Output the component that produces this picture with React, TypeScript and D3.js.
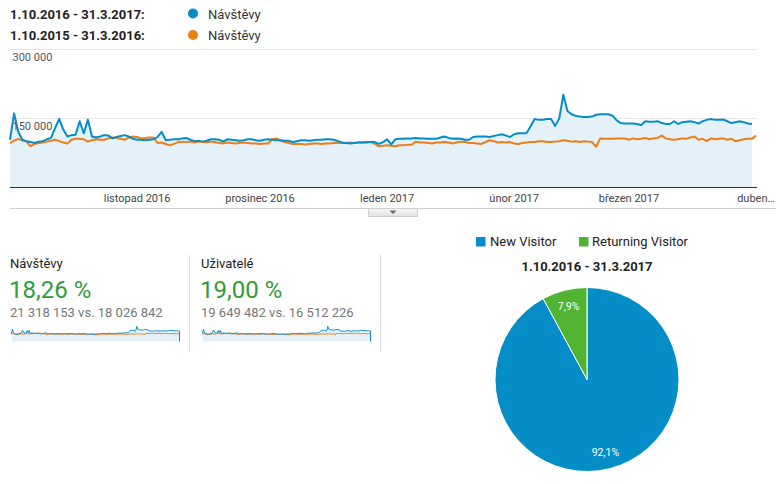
import React from "react";
import * as d3 from "d3";

// Daily visits (thousands), 1.10.2016 - 31.3.2017 (182 days)
const visitsCurrent = [
  103,160,121,103,100,98,96,99,100,104,
  107,128,148,125,110,113,114,143,117,146,
  110,108,110,113,112,106,109,111,113,110,
  105,103,103,102,103,104,109,120,102,103,
  104,104,106,107,103,100,101,99,101,104,
  104,103,99,104,103,102,101,102,104,104,
  102,101,103,104,103,102,102,101,101,98,
  100,102,102,101,102,103,103,104,104,103,
  100,97,96,95,96,97,97,97,98,98,
  94,98,104,93,104,105,105,106,106,107,
  106,106,105,105,105,108,110,107,105,106,
  105,103,103,109,110,110,110,109,111,113,
  115,112,109,115,117,117,117,132,148,146,
  146,148,148,133,149,200,165,158,155,153,
  152,152,153,157,158,158,158,155,145,139,
  138,138,138,137,135,143,142,142,143,139,
  137,137,143,137,141,142,143,141,138,143,
  146,148,146,146,147,143,139,141,143,141,
  138,137,
];

// Daily visits (thousands), 1.10.2015 - 31.3.2016 (183 days)
const visitsPrevious = [
  96,101,105,102,99,89,94,96,97,99,
  101,103,100,97,95,103,105,105,104,99,
  102,104,103,103,106,108,107,105,103,108,
  110,109,106,107,108,108,96,97,94,91,
  94,98,99,98,99,97,99,98,97,99,
  98,96,95,97,96,95,96,97,96,95,
  95,94,95,95,104,106,101,98,96,94,
  94,94,93,94,95,95,94,95,95,96,
  96,96,96,97,96,97,97,99,98,94,
  89,90,91,90,89,91,91,92,92,99,
  97,97,96,95,97,97,98,97,95,97,
  99,98,96,96,95,94,98,102,100,97,
  98,97,98,95,94,96,97,98,98,100,
  100,98,98,99,100,102,101,99,100,98,
  100,99,98,88,106,105,105,105,106,106,
  106,103,106,104,105,107,104,106,107,112,
  106,104,103,104,106,105,108,110,103,105,
  100,106,104,105,106,103,105,100,102,104,
  105,105,112,
];

const monthTickDays = [31, 61, 92, 123, 151, 182];
const monthTickLabels = ["listopad 2016", "prosinec 2016", "leden 2017", "únor 2017", "březen 2017", "duben…"];
const yTicks = [150000, 300000];
const yTickLabels = ["150 000", "300 000"];

const legendRanges = ["1.10.2016 - 31.3.2017:", "1.10.2015 - 31.3.2016:"];
const legendMetric = "Návštěvy";

const metricNames = ["Návštěvy", "Uživatelé"];
const metricChanges = ["18,26 %", "19,00 %"];
const metricCompare = ["21 318 153 vs. 18 026 842", "19 649 482 vs. 16 512 226"];

const pieLabels = ["New Visitor", "Returning Visitor"];
const pieValues = [92.1, 7.9];
const pieValueLabels = ["92,1%", "7,9%"];
const pieTitle = "1.10.2016 - 31.3.2017";

const BLUE = "#058dc7";
const ORANGE = "#ed7e17";
const GREEN = "#50b432";
const FILL = "#e5f1f8";
const FONT = "Roboto, Arial, sans-serif";

function Sparkline({ x0, x1 }: { x0: number; x1: number }) {
  const sx = d3.scaleLinear().domain([0, 181]).range([x0, x1]);
  const sy = d3.scaleLinear().domain([0, 205000]).range([341.5, 326]);
  const line = d3
    .line<number>()
    .x((_, i) => sx(i))
    .y((d) => sy(d * 1000));
  const area = d3
    .area<number>()
    .x((_, i) => sx(i))
    .y0(sy(0))
    .y1((d) => sy(d * 1000));
  const prev = visitsPrevious.slice(0, 182);
  return (
    <g>
      <path d={area(visitsCurrent) || ""} fill={FILL} />
      <path d={line(prev) || ""} fill="none" stroke={ORANGE} strokeWidth={1} />
      <path
        d={(line(visitsCurrent) || "") + `V${sy(0)}`}
        fill="none"
        stroke={BLUE}
        strokeWidth={1}
      />
    </g>
  );
}

export default function App() {
  const x = d3.scaleLinear().domain([0, 182]).range([10, 756]);
  const y = d3.scaleLinear().domain([0, 300000]).range([187.5, 48.5]);

  const line = d3
    .line<number>()
    .x((_, i) => x(i))
    .y((d) => y(d * 1000));
  const area = d3
    .area<number>()
    .x((_, i) => x(i))
    .y0(y(0))
    .y1((d) => y(d * 1000));

  const pie = d3.pie<number>().sort(null).startAngle(0).endAngle(Math.PI * 2);
  const arcs = pie(pieValues);
  const arc = d3.arc<d3.PieArcDatum<number>>().innerRadius(0).outerRadius(92);
  const labelArc = d3.arc<d3.PieArcDatum<number>>().innerRadius(75).outerRadius(75);
  const pieColors = [BLUE, GREEN];
  const cx = 587;
  const cy = 379.5;

  return (
    <svg
      width={782}
      height={484}
      style={{ position: "absolute", left: 0, top: 0, background: "#fff" }}
      fontFamily={FONT}
    >
      <rect width={782} height={484} fill="#fff" />
      {/* top legend */}
      {legendRanges.map((r, i) => (
        <g key={r}>
          <text x={10} y={18.5 + i * 21} fontSize={13} fontWeight="bold" fill="#222">
            {r}
          </text>
          <circle cx={193} cy={13.5 + i * 21.5} r={5} fill={i === 0 ? BLUE : ORANGE} />
          <text x={208} y={18.5 + i * 21} fontSize={13} fill="#333">
            {legendMetric}
          </text>
        </g>
      ))}

      {/* gridlines */}
      {yTicks.map((t) => (
        <line key={t} x1={10} x2={757} y1={Math.round(y(t)) + 0.5} y2={Math.round(y(t)) + 0.5} stroke="#e6e6e6" />
      ))}

      {/* area + lines */}
      <path d={area(visitsCurrent) || ""} fill={FILL} />
      <path d={line(visitsPrevious) || ""} fill="none" stroke={ORANGE} strokeWidth={2} strokeLinejoin="round" />
      <path d={line(visitsCurrent) || ""} fill="none" stroke={BLUE} strokeWidth={2} strokeLinejoin="round" />

      {/* y tick labels */}
      {yTicks.map((t, i) => (
        <text key={t} x={12.5} y={y(t) + 12} fontSize={11} fill="#555">
          {yTickLabels[i]}
        </text>
      ))}

      {/* x axis */}
      <line x1={10} x2={757} y1={187.5} y2={187.5} stroke="#333" strokeWidth={1} />
      {monthTickDays.map((d, i) => (
        <text key={d} x={x(d)} y={202} fontSize={11} fill="#444" textAnchor="middle">
          {monthTickLabels[i]}
        </text>
      ))}

      {/* divider with toggle */}
      <line x1={10} x2={776} y1={208.5} y2={208.5} stroke="#cfcfcf" />
      <defs>
        <linearGradient id="btn" x1="0" y1="0" x2="0" y2="1">
          <stop offset="0" stopColor="#f6f6f6" />
          <stop offset="1" stopColor="#e2e2e2" />
        </linearGradient>
      </defs>
      <rect x={368.5} y={208.5} width={49} height={8} fill="url(#btn)" stroke="#cfcfcf" />
      <path d="M389.5,210.5 L396.5,210.5 L393,214 Z" fill="#666" />

      {/* metric boxes */}
      {metricNames.map((m, i) => {
        const bx = 10 + i * 191;
        return (
          <g key={m}>
            <text x={bx} y={268} fontSize={13} fill="#222">
              {m}
            </text>
            <text x={bx - 1} y={297.5} fontSize={24} fill="#2e9d3a">
              {metricChanges[i]}
            </text>
            <text x={bx} y={316.5} fontSize={13} fill="#777">
              {metricCompare[i]}
            </text>
            <Sparkline x0={bx + 1.5} x1={bx + 169.5} />
          </g>
        );
      })}
      <line x1={189.5} x2={189.5} y1={255} y2={352} stroke="#dcdcdc" />
      <line x1={380.5} x2={380.5} y1={255} y2={352} stroke="#dcdcdc" />

      {/* pie legend */}
      {pieLabels.map((l, i) => (
        <g key={l}>
          <rect x={476 + i * 103} y={237} width={9.5} height={9.5} fill={pieColors[i]} />
          <text x={490 + i * 102} y={246} fontSize={13} fill="#222">
            {l}
          </text>
        </g>
      ))}
      <text x={cx} y={271} fontSize={13} fontWeight="bold" fill="#222" textAnchor="middle">
        {pieTitle}
      </text>

      {/* pie */}
      <g transform={`translate(${cx},${cy})`}>
        {arcs.map((a, i) => (
          <path key={i} d={arc(a) || ""} fill={pieColors[i]} stroke="#fff" strokeWidth={1} />
        ))}
        {arcs.map((a, i) => {
          const [lx, ly] = labelArc.centroid(a);
          return (
            <text
              key={"l" + i}
              x={lx}
              y={ly}
              dy="0.35em"
              fontSize={10.5}
              fill="#fff"
              textAnchor="middle"
            >
              {pieValueLabels[i]}
            </text>
          );
        })}
      </g>
    </svg>
  );
}
